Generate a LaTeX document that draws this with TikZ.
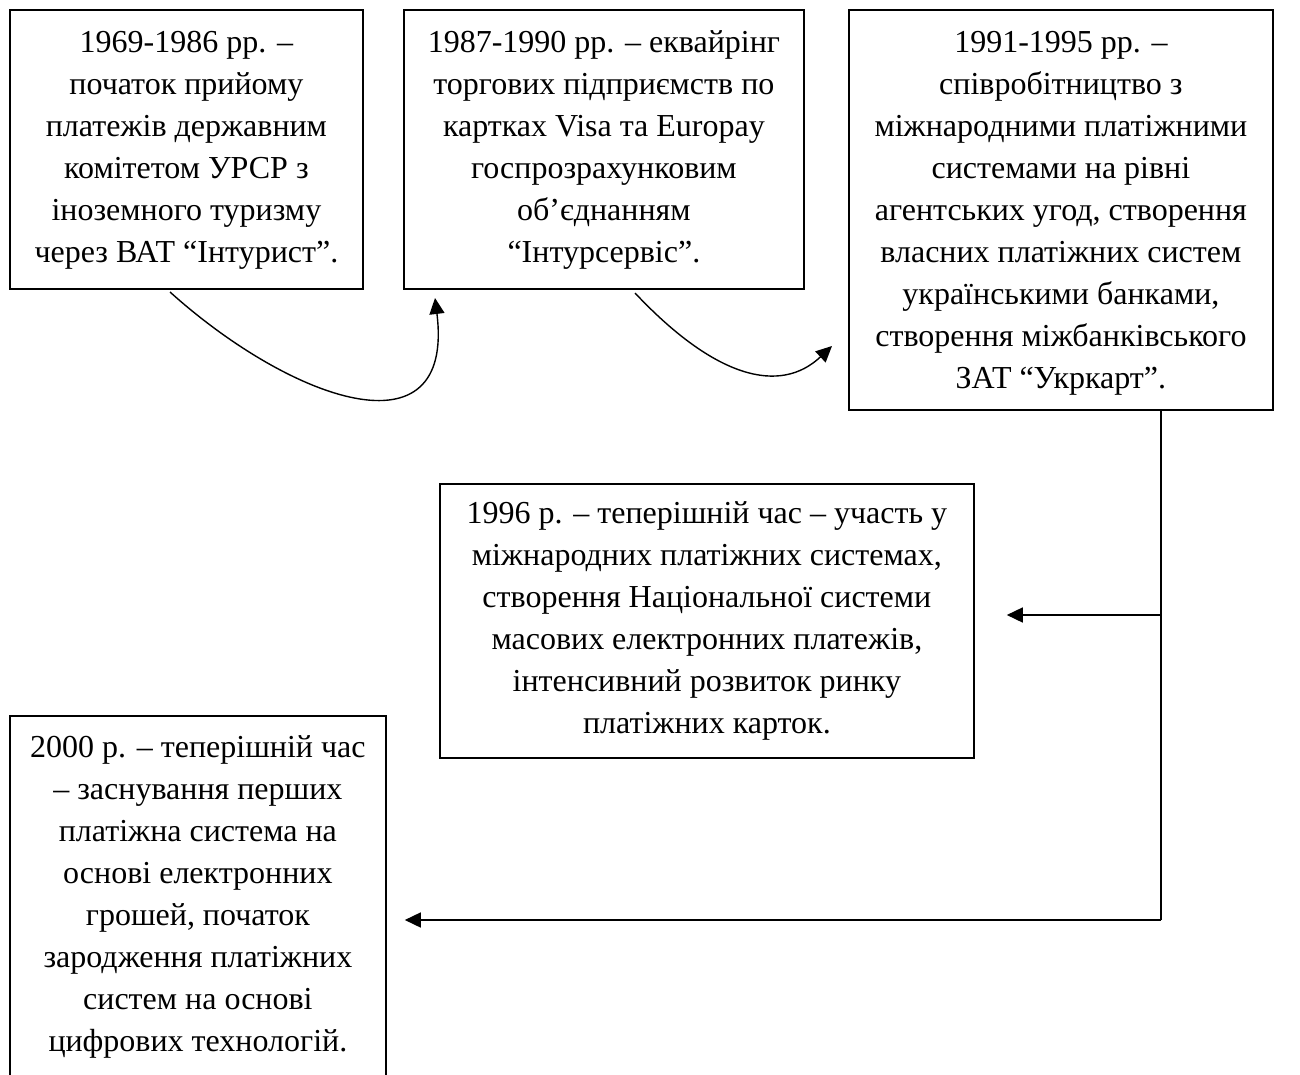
\documentclass[tikz,border=0pt]{standalone}
\usepackage{fontspec}
\setmainfont{Liberation Serif}
\usetikzlibrary{arrows.meta}
\tikzset{
  boxframe/.style={draw=black, line width=1.8pt, anchor=north west, inner sep=0pt},
  boxtext/.style={anchor=north, inner sep=0pt, align=center,
    font=\fontsize{32}{42}\selectfont},
  link/.style={draw=black, line width=1.6pt, -{Triangle[length=16pt,width=15pt]}},
  curvelink/.style={draw=black, line width=1.4pt, -{Triangle[length=16pt,width=15pt]}},
}
\newcommand{\firstline}{\rule{0pt}{30pt}}
\begin{document}
\begin{tikzpicture}[x=1pt,y=-1pt]
\clip (0,0) rectangle (1300,1075);
\fill[white] (0,0) rectangle (1300,1075);

% frames
\node[boxframe, minimum width=353pt, minimum height=279pt] (b1) at (9,9) {};
\node[boxframe, minimum width=400pt, minimum height=279pt] (b2) at (403,9) {};
\node[boxframe, minimum width=424pt, minimum height=400pt] (b3) at (848,9) {};
\node[boxframe, minimum width=534pt, minimum height=274pt] (b4) at (439,483) {};
\node[boxframe, minimum width=376pt, minimum height=400pt] (b5) at (9,715) {};

% texts
\node[boxtext] (t1) at ([yshift=-13pt]b1.north) {\firstline 1969-1986 рр. –\\ початок прийому\\ платежів державним\\ комітетом УРСР з\\ іноземного туризму\\ через ВАТ “Інтурист”.};
\node[boxtext] (t2) at ([yshift=-13pt]b2.north) {\firstline 1987-1990 рр. – еквайрінг\\ торгових підприємств по\\ картках Visa та Europay\\ госпрозрахунковим\\ об’єднанням\\ “Інтурсервіс”.};
\node[boxtext] (t3) at ([yshift=-13pt]b3.north) {\firstline 1991-1995 рр. –\\ співробітництво з\\ міжнародними платіжними\\ системами на рівні\\ агентських угод, створення\\ власних платіжних систем\\ українськими банками,\\ створення міжбанківського\\ ЗАТ “Укркарт”.};
\node[boxtext] (t4) at ([yshift=-10pt]b4.north) {\firstline 1996 р. – теперішній час – участь у\\ міжнародних платіжних системах,\\ створення Національної системи\\ масових електронних платежів,\\ інтенсивний розвиток ринку\\ платіжних карток.};
\node[boxtext] (t5) at ([yshift=-12pt]b5.north) {\firstline 2000 р. – теперішній час\\ – заснування перших\\ платіжна система на\\ основі електронних\\ грошей, початок\\ зародження платіжних\\ систем на основі\\ цифрових технологій.};

% curved connectors
\coordinate (c1s) at (170,292);
\coordinate (c1e) at (435,298);
\draw[curvelink] (c1s) .. controls (290,400) and (455,460) .. (c1e);
\coordinate (c2s) at (635,293);
\coordinate (c2e) at (832,346);
\draw[curvelink] (c2s) .. controls (715,378) and (780,395) .. (c2e);

% elbow connectors
\coordinate (j1) at (1161,615);
\coordinate (j2) at (1161,920);
\draw[line width=1.6pt] (b3.south -| j1) -- (j2);
\draw[link] (j1) -- ([xshift=32pt]b4.east |- j1);
\draw[link] (j2) -- ([xshift=18pt]b5.east |- j2);
\end{tikzpicture}
\end{document}
